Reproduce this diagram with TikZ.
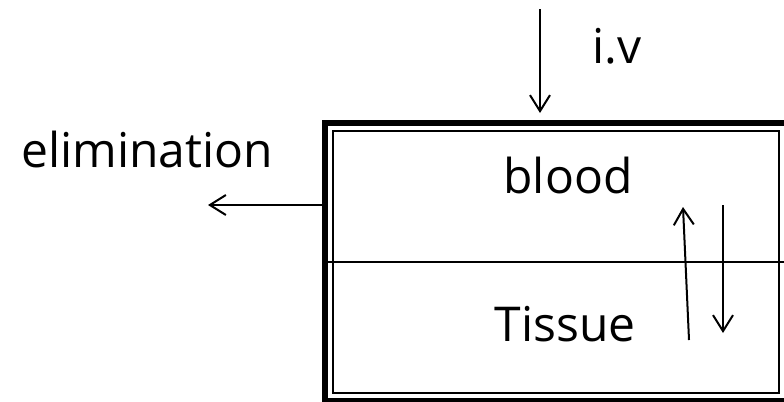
\documentclass[tikz,border=0pt]{standalone}
\usepackage{fontspec}
\setmainfont{Open Sans}
\usetikzlibrary{arrows.meta,positioning}
\tikzset{
x=0.75pt,y=-0.75pt,
>={Straight Barb[length=12pt,width=15pt]},
flow/.style={->,line width=1.5pt},
lbl/.style={font=\fontsize{36}{40}\selectfont,inner sep=0pt,anchor=base},
outer/.style={line width=4pt},
inner/.style={line width=1pt}
}
\begin{document}
\begin{tikzpicture}
\useasboundingbox (0,0) rectangle (784,401);
\clip (0,0) rectangle (784,401);
% compartments
\draw[outer] (325,123) rectangle (791,401);
\draw[inner] (333,131) rectangle (779,393);
\draw[line width=1.3pt] (327,262) coordinate (divl) -- (791,262) coordinate (divr);

\node[lbl] (blood)  at (568,193) {blood};
\node[lbl] (tissue) at (565,341) {Tissue};
\node[lbl] (iv)     at (617,63)  {i.v};
\node[lbl] (elim)   at (147,167) {elimination};

\coordinate (ivtop)   at (540,9);
\coordinate (ivend)   at (540,113);
\coordinate (elstart) at (323,205);
\coordinate (elend)   at (208,205);
\coordinate (upstart) at (689,340);
\coordinate (upend)   at (683,207);
\coordinate (dnstart) at (723,205);
\coordinate (dnend)   at (723,333);

\draw[flow] (ivtop) -- (ivend);
\draw[flow] (elstart) -- (elend);
\draw[flow] (upstart) -- (upend);
\draw[flow] (dnstart) -- (dnend);
\end{tikzpicture}
\end{document}
